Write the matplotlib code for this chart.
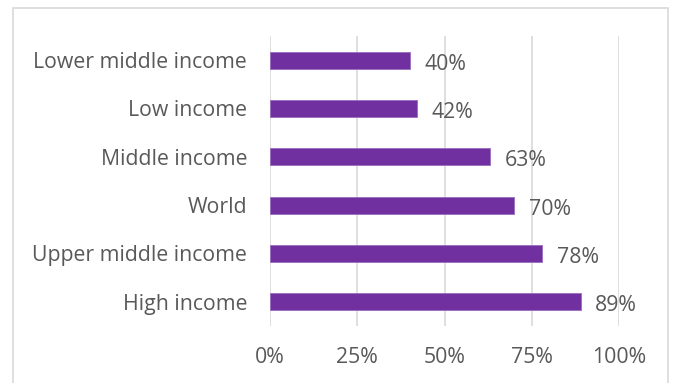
import matplotlib.pyplot as plt
from matplotlib.patches import Rectangle

# data, top to bottom as shown
categories = ["Lower middle income", "Low income", "Middle income",
              "World", "Upper middle income", "High income"]
values = [40, 42, 63, 70, 78, 89]
ticks = [0, 25, 50, 75, 100]
tick_labels = ["0%", "25%", "50%", "75%", "100%"]

plt.rcParams['font.family'] = ['Open Sans', 'DejaVu Sans']
text_col = "#595959"
bar_col = "#7030A0"

W, H = 678, 383
fig = plt.figure(figsize=(W / 100, H / 100), dpi=100)
ax = fig.add_axes([270 / W, 1 - 326 / H, (619 - 270) / W, (326 - 36) / H])

ypos = list(range(len(categories)))[::-1]
ax.barh(ypos, values, height=0.35, color=bar_col, edgecolor="#9a6cc0",
        linewidth=0.6, zorder=3)

for y, v in zip(ypos, values):
    ax.text(v + 4.2, y - 0.08, f"{v}%", va="center", ha="left",
            fontsize=15.3, color=text_col)

ax.set_xlim(0, 100)
ax.set_ylim(-0.5, 5.5)
ax.set_xticks(ticks)
ax.set_xticklabels(tick_labels)
ax.set_yticks(ypos)
ax.set_yticklabels(categories)
ax.tick_params(axis="both", length=0, labelsize=15.3, colors=text_col)
ax.tick_params(axis="y", pad=16.5)
ax.tick_params(axis="x", pad=15)
ax.grid(axis="x", color="#d9d9d9", linewidth=1.2, zorder=0)
for s in ax.spines.values():
    s.set_visible(False)

# outer chart border
fig.patches.append(Rectangle((13 / W, -0.05), (668 - 13) / W, 1 - 8 / H + 0.05,
                             transform=fig.transFigure, fill=False,
                             edgecolor="#d9d9d9", linewidth=1.2))

fig.savefig("out.png", dpi=100)
